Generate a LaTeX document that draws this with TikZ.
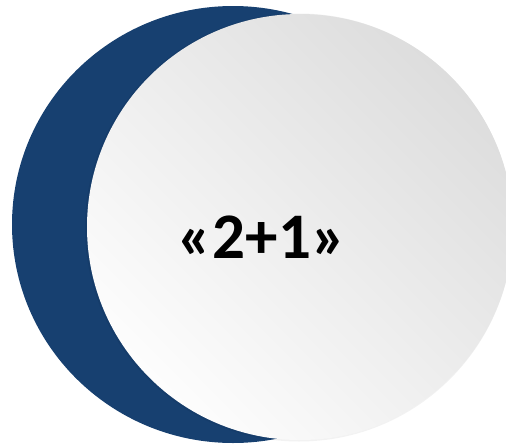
\documentclass[tikz,border=0pt]{standalone}
\usepackage{fontspec}
\setmainfont{Carlito}
\definecolor{navy}{RGB}{23,64,112}
\definecolor{lightend}{RGB}{221,221,221}
\definecolor{darkend}{RGB}{253,253,253}
\begin{document}
\begin{tikzpicture}[x=1pt,y=-1pt,
  backdisc/.style={fill=navy},
  frontdisc/.style={top color=lightend,bottom color=darkend,shading angle=-45},
  label/.style={font=\fontsize{65}{72}\selectfont\bfseries,text=black,inner sep=0pt}]
\useasboundingbox (0,0) rectangle (506,445);
\begin{scope}
\clip (0,0) rectangle (506,445);
\fill[backdisc] (233,224.5) ellipse [x radius=221,y radius=218.5];
\fill[black,opacity=0.05] (299,227.5) circle (214);
\shade[frontdisc] (300,227) circle (213);
\end{scope}
\node[label,anchor=base] (t) at (262,258) {«2+1»};
\end{tikzpicture}
\end{document}
